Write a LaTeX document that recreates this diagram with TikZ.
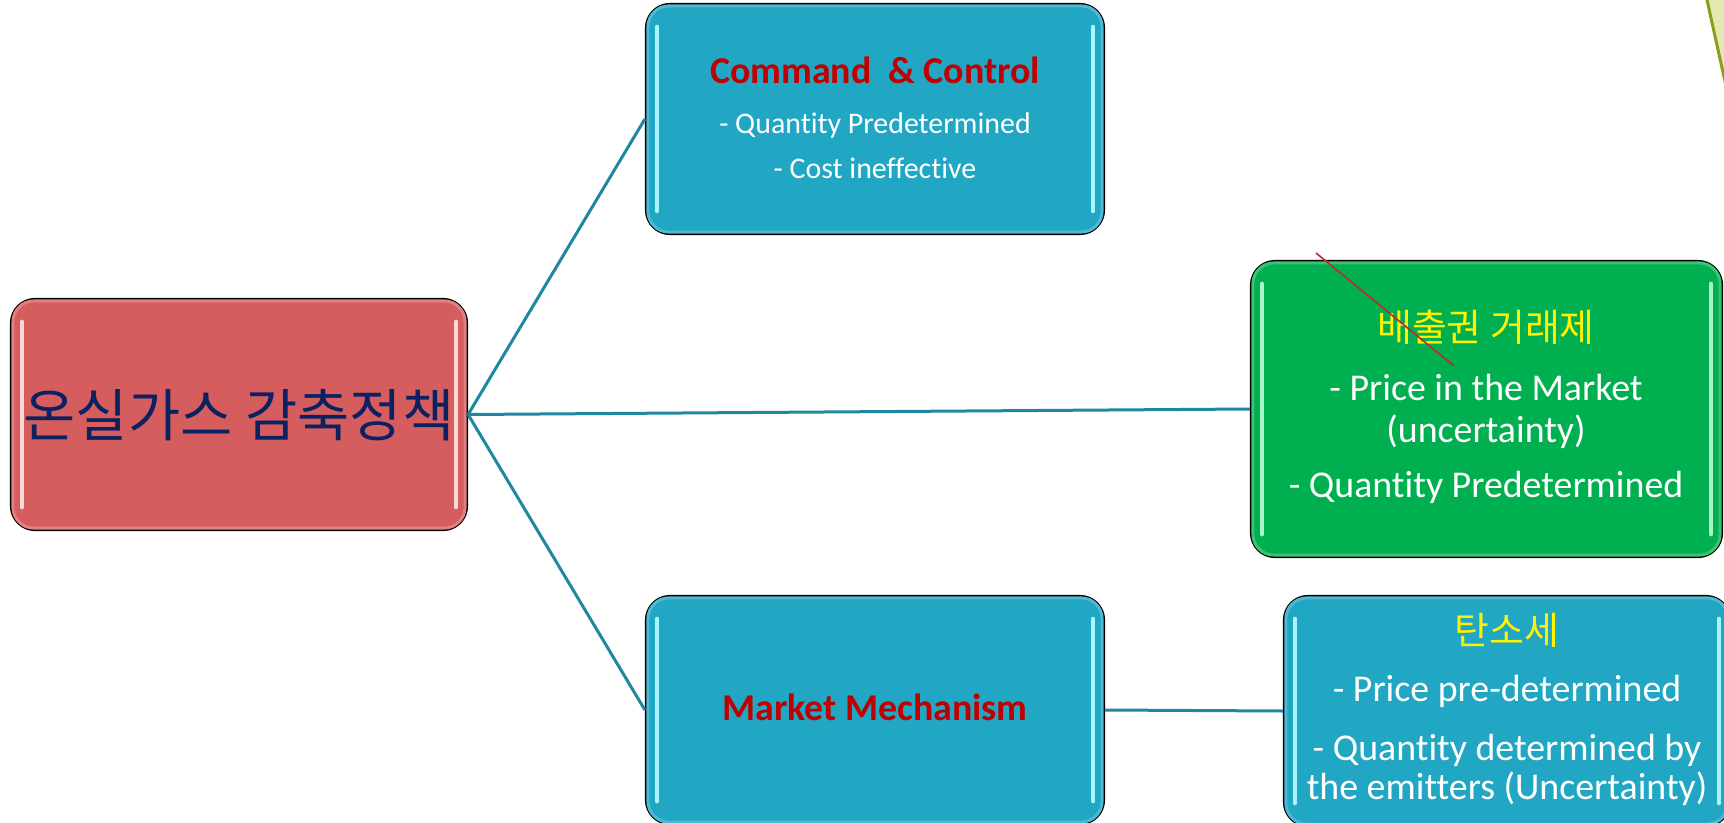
\documentclass[tikz,border=0pt]{standalone}
\usepackage{fontspec}
\setmainfont[Ligatures={NoCommon,NoContextual,NoRequired},RawFeature={-liga;-clig;-calt}]{Carlito}
\newfontfamily\krfont{Noto Sans CJK KR}
\definecolor{cyanbox}{HTML}{21A6C4}
\definecolor{cyanhl}{HTML}{A8F4FF}
\definecolor{cyanrim}{HTML}{4DB9D3}
\definecolor{redbox}{HTML}{D65D5D}
\definecolor{redhl}{HTML}{FBD8D8}
\definecolor{redrim}{HTML}{E08080}
\definecolor{greenbox}{HTML}{00B050}
\definecolor{greenhl}{HTML}{A8F5C8}
\definecolor{greenrim}{HTML}{3CC276}
\definecolor{linkc}{HTML}{1F87A0}
\definecolor{navy}{HTML}{0B2162}
\definecolor{titlered}{HTML}{C00000}
\definecolor{slashred}{HTML}{C0282D}
\definecolor{oliveline}{HTML}{8C9D1C}
\definecolor{olivefill}{HTML}{E3E8B0}
\newcommand\setfs[1]{\fontsize{#1}{#1}\selectfont}
\tikzset{
  box/.style={draw=black, line width=2.2bp, rounded corners=24bp, inner sep=0pt},
  link/.style={draw=linkc, line width=3bp},
  hl/.style={line width=4.5bp, line cap=round},
  rim/.style={line width=3bp, rounded corners=21bp},
  txt/.style={inner sep=0pt, anchor=base, align=center},
  wtxt/.style={txt, text=white, font=\setfs{38}},
  ktxt/.style={txt, text=yellow, font=\krfont\setfs{38}},
}
\begin{document}
\begin{tikzpicture}[x=1bp,y=-1bp]
\useasboundingbox (0,0) rectangle (1724,823);
\clip (0,0) rectangle (1724,823);
\fill[white] (0,0) rectangle (1724,823);
% olive decoration top right
\fill[olivefill] (1707,0) -- (1728,95) -- (1728,0) -- cycle;
\draw[oliveline, line width=3bp] (1707,0) -- (1728,95);
% boxes
\node[box, fill=redbox, minimum width=456bp, minimum height=231bp] (root) at (239,414.5) {};
\node[box, fill=cyanbox, minimum width=458bp, minimum height=230bp] (cc) at (875,119) {};
\node[box, fill=greenbox, minimum width=471bp, minimum height=296bp] (ets) at (1486.5,409) {};
\node[box, fill=cyanbox, minimum width=458bp, minimum height=228bp] (mm) at (875,710) {};
\node[box, fill=cyanbox, minimum width=446bp, minimum height=230bp] (tax) at (1507,711) {};
% rims and highlights
\foreach \b/\c/\r in {root/redhl/redrim, cc/cyanhl/cyanrim, ets/greenhl/greenrim, mm/cyanhl/cyanrim, tax/cyanhl/cyanrim}{
  \draw[rim, \r] ([xshift=3bp,yshift=-3bp]\b.north west) rectangle ([xshift=-3bp,yshift=3bp]\b.south east);
  \draw[hl, \c] ([xshift=12bp,yshift=-24bp]\b.north west) -- ([xshift=12bp,yshift=24bp]\b.south west);
  \draw[hl, \c] ([xshift=-12bp,yshift=-24bp]\b.north east) -- ([xshift=-12bp,yshift=24bp]\b.south east);
}
% connectors
\draw[link] (root.east) -- (cc.west);
\draw[link] (root.east) -- (ets.west);
\draw[link] (root.east) -- (mm.west);
\draw[link] (mm.east) -- (tax.west);
% texts
\node[txt, text=navy, font=\krfont\setfs{57}] (roott) at (239,436) {온실가스 감축정책};
\node[txt, text=titlered, font=\bfseries\setfs{38}] (cct) at (875,83) {Command\ \ \&\ Control};
\node[txt, text=white, font=\setfs{30}] (cc1) at (875,133) {- Quantity Predetermined};
\node[txt, text=white, font=\setfs{30}] (cc2) at (875,178) {- Cost ineffective};
\node[ktxt] (etst) at (1486,341) {배출권 거래제};
\node[wtxt] (ets1) at (1486,400) {- Price in the Market};
\node[wtxt] (ets2) at (1486,442) {(uncertainty)};
\node[wtxt] (ets3) at (1486,497) {- Quantity Predetermined};
\node[txt, text=titlered, font=\bfseries\setfs{38}] (mmt) at (875,720) {Market Mechanism};
\node[ktxt] (taxt) at (1507,644) {탄소세};
\node[wtxt] (tax1) at (1507,701) {- Price pre-determined};
\node[wtxt] (tax2) at (1507,760) {- Quantity determined by};
\node[wtxt] (tax3) at (1507,799) {the emitters (Uncertainty)};
% red slash
\draw[slashred, line width=1.6bp] (1316,253) -- (1454,366);
\end{tikzpicture}
\end{document}
